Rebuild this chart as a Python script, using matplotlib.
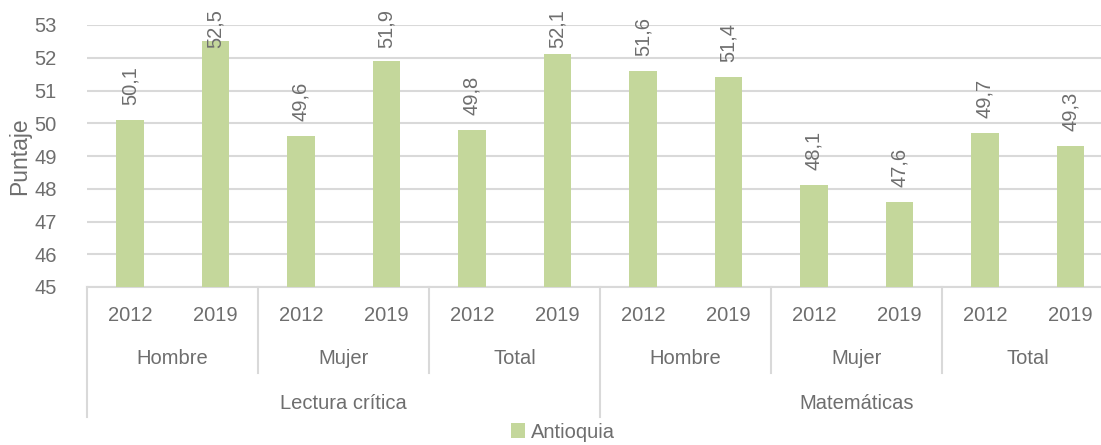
import matplotlib.pyplot as plt
import numpy as np

plt.rcParams['font.family'] = ['Liberation Sans', 'DejaVu Sans']

# datos
anios = ['2012', '2019'] * 6
sexo = ['Hombre', 'Mujer', 'Total', 'Hombre', 'Mujer', 'Total']
areas = ['Lectura crítica', 'Matemáticas']
antioquia = [50.1, 52.5, 49.6, 51.9, 49.8, 52.1, 51.6, 51.4, 48.1, 47.6, 49.7, 49.3]

gris = '#6E6E6E'
linea = '#D9D9D9'
verde = '#C4D79B'
fs = 14.5

fig = plt.figure(figsize=(11.01, 4.45), dpi=100)
ax = fig.add_axes([87.2 / 1101, 158 / 445, 1026 / 1101, 262 / 445])

x = np.arange(len(antioquia))
barras = ax.bar(x, antioquia, width=0.32, color=verde, label='Antioquia', zorder=3)

ax.set_ylim(45, 53)
ax.set_xlim(-0.5, len(antioquia) - 0.5)

# etiquetas de valor: separadas de la barra, pero sin pasar del borde superior
for xi, v in zip(x, antioquia):
    yl = min(v + 0.46, 52.3)
    ax.text(xi, yl, ('%.1f' % v).replace('.', ','), rotation=90, ha='center', va='bottom',
            fontsize=fs, color=gris, clip_on=False, zorder=4)

ax.set_yticks(range(45, 54))
ax.yaxis.grid(True, color=linea, linewidth=1.5, zorder=0)
ax.tick_params(axis='y', length=0, pad=22, labelsize=fs, labelcolor=gris)
ax.set_xticks([])
for s in ['top', 'right', 'left']:
    ax.spines[s].set_visible(False)
ax.spines['bottom'].set_color(linea)
ax.spines['bottom'].set_linewidth(1.5)
ax.set_ylabel('Puntaje', fontsize=16.5, color=gris, labelpad=2)

# etiquetas de varios niveles
tr = ax.get_xaxis_transform()
for xi, a in zip(x, anios):
    ax.text(xi, -0.107, a, transform=tr, ha='center', va='center', fontsize=fs, color=gris)
for i, s in enumerate(sexo):
    ax.text(2 * i + 0.5, -0.271, s, transform=tr, ha='center', va='center', fontsize=fs, color=gris)
for i, a in enumerate(areas):
    ax.text(6 * i + 2.5, -0.443, a, transform=tr, ha='center', va='center', fontsize=fs, color=gris)

for b in range(0, 13, 2):
    fondo = -0.496 if b % 6 == 0 else -0.328
    ax.plot([b - 0.5, b - 0.5], [0, fondo], transform=tr, color=linea, linewidth=1.5, clip_on=False)

fig.legend(handles=[barras], labels=['Antioquia'], loc='center', bbox_to_anchor=(0.511, 0.029),
           frameon=False, fontsize=fs, labelcolor=gris, handlelength=0.7, handleheight=0.7,
           handletextpad=0.3)

fig.savefig('out.png', dpi=100)
